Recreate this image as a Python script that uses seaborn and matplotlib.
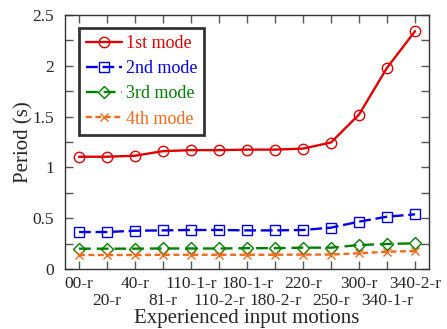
import numpy as np
import pandas as pd
import matplotlib
matplotlib.use("Agg")
import matplotlib.pyplot as plt
from matplotlib.ticker import MultipleLocator, FuncFormatter, FixedLocator, FixedFormatter
import seaborn as sns

motions = ["00-r", "20-r", "40-r", "81-r", "110-1-r", "110-2-r", "180-1-r",
           "180-2-r", "220-r", "250-r", "300-r", "340-1-r", "340-2-r"]
mode1 = [1.105, 1.105, 1.115, 1.16, 1.17, 1.17, 1.175, 1.175, 1.185, 1.245, 1.52, 1.98, 2.34]
mode2 = [0.364, 0.364, 0.377, 0.380, 0.384, 0.384, 0.380, 0.380, 0.384, 0.407, 0.466, 0.515, 0.538]
mode3 = [0.200, 0.200, 0.200, 0.202, 0.202, 0.202, 0.205, 0.205, 0.210, 0.210, 0.236, 0.246, 0.253]
mode4 = [0.138, 0.138, 0.138, 0.140, 0.140, 0.140, 0.140, 0.140, 0.142, 0.142, 0.155, 0.170, 0.177]
mode_names = ["1st mode", "2nd mode", "3rd mode", "4th mode"]

sns.set_style("ticks")
plt.rcParams["font.family"] = ["Liberation Serif", "DejaVu Serif"]
plt.rcParams["font.size"] = 12.5

pos = np.arange(len(motions))
df = pd.DataFrame({
    "pos": np.tile(pos, 4),
    "period": mode1 + mode2 + mode3 + mode4,
    "mode": np.repeat(mode_names, len(motions)),
})

colors = {"1st mode": "#e00000", "2nd mode": "#0000e0",
          "3rd mode": "#008000", "4th mode": "#f26a1b"}
markers = {"1st mode": "o", "2nd mode": "s", "3rd mode": "D", "4th mode": "x"}
msizes = {"1st mode": 7.5, "2nd mode": 7.5, "3rd mode": 6.5, "4th mode": 6}
dashes = {"2nd mode": (5, 2), "3rd mode": (5, 2.5), "4th mode": (2.5, 1.5)}

fig = plt.figure(figsize=(4.47, 3.29), dpi=100)
ax = fig.add_axes([65 / 447, 1 - 269 / 329, 364 / 447, 254 / 329])

for name in mode_names:
    sub = df[df["mode"] == name]
    style = {"dashes": dashes[name]} if name in dashes else {}
    sns.lineplot(data=sub, x="pos", y="period", ax=ax, color=colors[name],
                 marker=markers[name], markersize=msizes[name],
                 markerfacecolor="none", markeredgecolor=colors[name],
                 markeredgewidth=1.0, linewidth=1.7, label=name, **style)

ax.set_xlim(-0.5, len(motions) - 0.5)
ax.set_ylim(0, 2.5)

# Staggered category labels: even positions on the first row, odd ones below
ax.xaxis.set_major_locator(FixedLocator(pos[::2]))
ax.xaxis.set_major_formatter(FixedFormatter(motions[::2]))
ax.xaxis.set_minor_locator(FixedLocator(pos[1::2]))
ax.xaxis.set_minor_formatter(FixedFormatter(motions[1::2]))

ax.yaxis.set_major_locator(MultipleLocator(0.5))
ax.yaxis.set_minor_locator(MultipleLocator(0.25))
ax.yaxis.set_major_formatter(FuncFormatter(lambda v, p: f"{v:g}"))
ax.tick_params(axis="both", which="both", direction="in", top=True, right=True,
               length=6, width=1, color="#555555", labelsize=12.5)
ax.tick_params(axis="y", pad=8)
ax.tick_params(axis="x", which="major", pad=5)
ax.tick_params(axis="x", which="minor", pad=17)
for s in ax.spines.values():
    s.set_color("#333333")
    s.set_linewidth(1.0)

ax.set_xlabel("Experienced input motions", fontsize=15, labelpad=0)
ax.set_ylabel("Period (s)", fontsize=15, labelpad=-1)

leg = ax.legend(loc="upper left", bbox_to_anchor=(0.038, 0.949), borderaxespad=0,
                frameon=True, fancybox=False, handlelength=2.0, handletextpad=0.2,
                labelspacing=0.45, borderpad=0.4, fontsize=13)
leg.get_frame().set_edgecolor("black")
leg.get_frame().set_linewidth(2)
for txt, name in zip(leg.get_texts(), mode_names):
    txt.set_color(colors[name])

fig.savefig("out.png", dpi=100)
